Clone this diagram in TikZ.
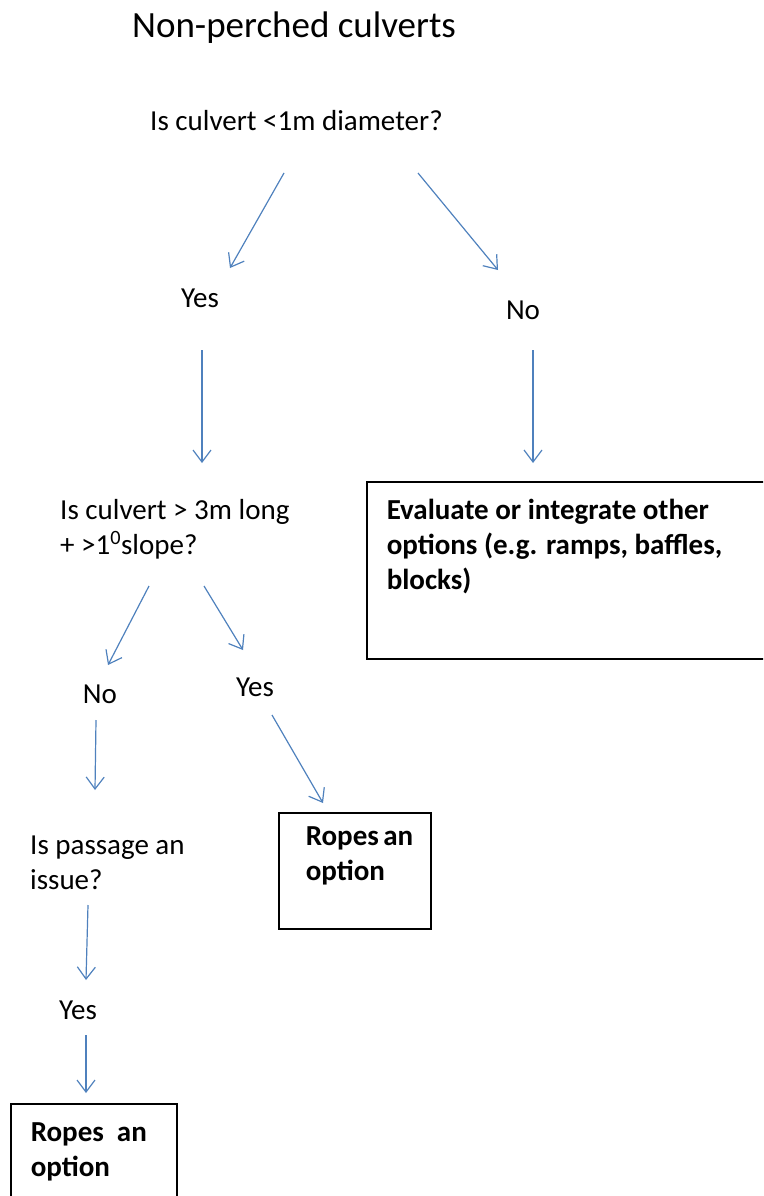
\documentclass[tikz,border=0pt]{standalone}
\usepackage{fontspec}
\setmainfont{Carlito}
\usetikzlibrary{arrows.meta}
\definecolor{arrowblue}{RGB}{79,129,189}
\begin{document}
\begin{tikzpicture}[x=1pt, y=1pt,
    txt/.style={inner sep=0pt, anchor=base west, align=flush left, font=\fontsize{29}{35}\selectfont},
    optbox/.style={draw=black, line width=1.5pt, anchor=north west, align=flush left, text height=20pt, font=\fontsize{29}{35}\selectfont\bfseries},
    arr/.style={draw=arrowblue, line width=1.2pt, -{Straight Barb[length=12pt, width=18pt, line width=1.2pt]}}]
        \clip (0,0) rectangle (763,-1196);

        \node[txt, anchor=base, font=\fontsize{37}{44}\selectfont] (title) at (294,-38) {Non-perched culverts};
        \node[txt] (q1) at (150,-131) {Is culvert <1m diameter?};
        \node[txt, anchor=base] (yes1) at (200,-307) {Yes};
        \node[txt, anchor=base] (no1) at (523,-319) {No};
        \node[txt, text width=270pt] (q2) at (60,-519) {Is culvert > 3m long\\+ >1\textsuperscript{0}slope?};
        \node[optbox, text width=370pt, inner xsep=20pt, inner ysep=18pt, text depth=121pt] (evalbox) at (366,-481) {Evaluate or integrate other\\options (e.g. ramps, baffles,\\blocks)};
        \node[txt, anchor=base] (no2) at (100,-703) {No};
        \node[txt, anchor=base] (yes2) at (255,-696) {Yes};
        \node[optbox, text width=98pt, inner xsep=27pt, inner ysep=13pt, text depth=70pt] (rope1) at (278,-812) {Ropes~an\\option};
        \node[txt, text width=200pt] (q3) at (30,-854) {Is passage an\\issue?};
        \node[txt, anchor=base] (yes3) at (78,-1019) {Yes};
        \node[optbox, text width=126pt, inner xsep=20pt, inner ysep=18pt, text depth=110pt] (rope2) at (10,-1103) {Ropes~~an\\option};

        \draw[arr] ([shift={(134,-42)}]q1.base west) -- ([shift={(30,39)}]yes1.base);
        \draw[arr] ([shift={(268,-42)}]q1.base west) -- ([shift={(-25,49)}]no1.base);
        \draw[arr] ([shift={(2,-43)}]yes1.base) -- ([shift={(142,56)}]q2.base west);
        \draw[arr] ([shift={(10,-31)}]no1.base) -- ([shift={(167,18)}]evalbox.north west);
        \draw[arr] ([shift={(89,-67)}]q2.base west) -- ([shift={(8,38)}]no2.base);
        \draw[arr] ([shift={(144,-67)}]q2.base west) -- ([shift={(-12,46)}]yes2.base);
        \draw[arr] ([shift={(-4,-17)}]no2.base) -- ([shift={(65,64)}]q3.base west);
        \draw[arr] ([shift={(17,-19)}]yes2.base) -- ([shift={(45,9)}]rope1.north west);
        \draw[arr] ([shift={(58,-51)}]q3.base west) -- ([shift={(8,39)}]yes3.base);
        \draw[arr] ([shift={(8,-16)}]yes3.base) -- ([shift={(76,10)}]rope2.north west);
    \end{tikzpicture}
\end{document}
